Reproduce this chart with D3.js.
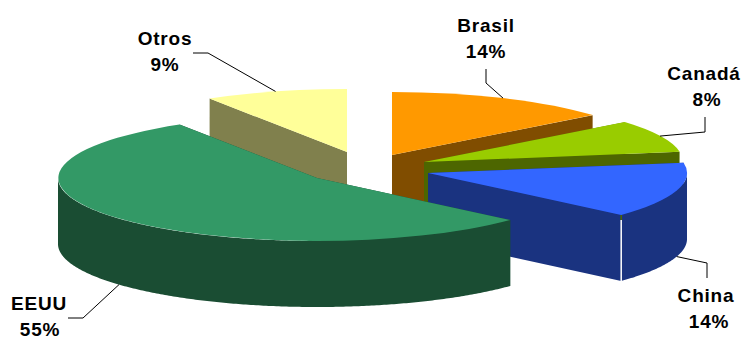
<!DOCTYPE html>
<html>
<head>
<meta charset="utf-8">
<script src="https://cdnjs.cloudflare.com/ajax/libs/d3/7.8.5/d3.min.js"></script>
<style>
  html, body { margin: 0; padding: 0; background: #fff; }
  svg { display: block; }
  text { font-family: "Liberation Sans", Arial, sans-serif; font-weight: bold; font-size: 19px; letter-spacing: 0.8px; fill: #000; text-anchor: middle; }
</style>
</head>
<body>
<script>
const countries = ['Brasil', 'Canadá', 'China', 'EEUU', 'Otros']
// the labels show these rounded
const shares = [14.1, 8.3, 14.2, 54.5, 8.9]
const topColors = ['#ff9900', '#99cc00', '#3366ff', '#339966', '#ffff99']
const wallColors = ['#804d00', '#4d6600', '#1a3380', '#1a4d33', '#80804d']

// how far each slice is pulled away from the middle of the pie
const explodeX = [20, 52, 56, -55, -25]
const explodeY = [-10, -3, 8, 13, -13]

// label placement: text centre, first baseline, leader elbow and leader end
const labelX = [486, 704, 706, 39, 165]
const labelY = [32, 80, 302, 310, 45]
const percentX = [486, 707, 709, 40, 165]
const elbowX = [486, 705, 707, 83, 208]
const elbowY = [83, 132, 263, 318, 53]
const leaderEndX = [486, 705, 707, 68, 193]
const leaderEndY = [69, 117, 278, 318, 53]

const width = 747
const height = 338
const cx = 372
const cy = 165
const rx = 259
const ry = 63
const depth = 66

const svg = d3.select('body')
  .append('svg')
    .attr('width', width)
    .attr('height', height)

const slices = d3.pie().sort(null)(shares)
const arc = d3.arc().innerRadius(0).outerRadius(1)
const line = d3.line()

// a point on the rim of slice i at angle a, z pixels down the wall
function rim(i, a, z) {
  return [
    cx + explodeX[i] + rx * Math.sin(a),
    cy + explodeY[i] - ry * Math.cos(a) + z
  ]
}

function apex(i, z) {
  return [cx + explodeX[i], cy + explodeY[i] + z]
}

function outerWall(i, a0, a1) {
  const angles = d3.range(a0, a1, 0.01).concat([a1])
  const top = angles.map(a => rim(i, a, 0))
  const bottom = angles.map(a => rim(i, a, depth)).reverse()
  return line(top.concat(bottom)) + 'Z'
}

function cutWall(i, a) {
  return line([apex(i, 0), rim(i, a, 0), rim(i, a, depth), apex(i, depth)]) + 'Z'
}

// painted back to front, the pie order happens to work here
const order = [4, 0, 1, 2, 3]
order.forEach(i => {
  const d = slices[i]
  const g = svg.append('g')

  g.append('path').attr('d', cutWall(i, d.startAngle)).attr('fill', wallColors[i])
  g.append('path').attr('d', cutWall(i, d.endAngle)).attr('fill', wallColors[i])

  const a0 = Math.max(d.startAngle, Math.PI / 2)
  const a1 = Math.min(d.endAngle, Math.PI * 1.5)
  if (a0 < a1) {
    g.append('path').attr('d', outerWall(i, a0, a1)).attr('fill', wallColors[i])
  }

  g.append('path')
    .attr('d', arc(d))
    .attr('transform', `translate(${apex(i, 0)}) scale(${rx},${ry})`)
    .attr('fill', topColors[i])
})

// seam on the front corner of the China slice
const corner = slices[2].endAngle
svg.append('path')
  .attr('d', line([rim(2, corner, 0), rim(2, corner, 5)]))
  .attr('stroke', wallColors[1])
  .attr('stroke-width', 1.5)
svg.append('path')
  .attr('d', line([rim(2, corner, 5), rim(2, corner, depth)]))
  .attr('stroke', '#fff')
  .attr('stroke-width', 1.5)

// leaders start on the rim at the middle of the slice
const leaders = svg.append('g')
slices.forEach((d, i) => {
  const mid = (d.startAngle + d.endAngle) / 2
  const z = Math.cos(mid) < 0 ? depth : 0
  leaders.append('path')
    .attr('d', line([[leaderEndX[i], leaderEndY[i]], [elbowX[i], elbowY[i]], rim(i, mid, z)]))
    .attr('fill', 'none')
    .attr('stroke', '#000')
    .attr('stroke-width', 1)
})

countries.forEach((name, i) => {
  svg.append('text').attr('x', labelX[i]).attr('y', labelY[i]).text(name)
  svg.append('text').attr('x', percentX[i]).attr('y', labelY[i] + 26).text(Math.round(shares[i]) + '%')
})
</script>
</body>
</html>
